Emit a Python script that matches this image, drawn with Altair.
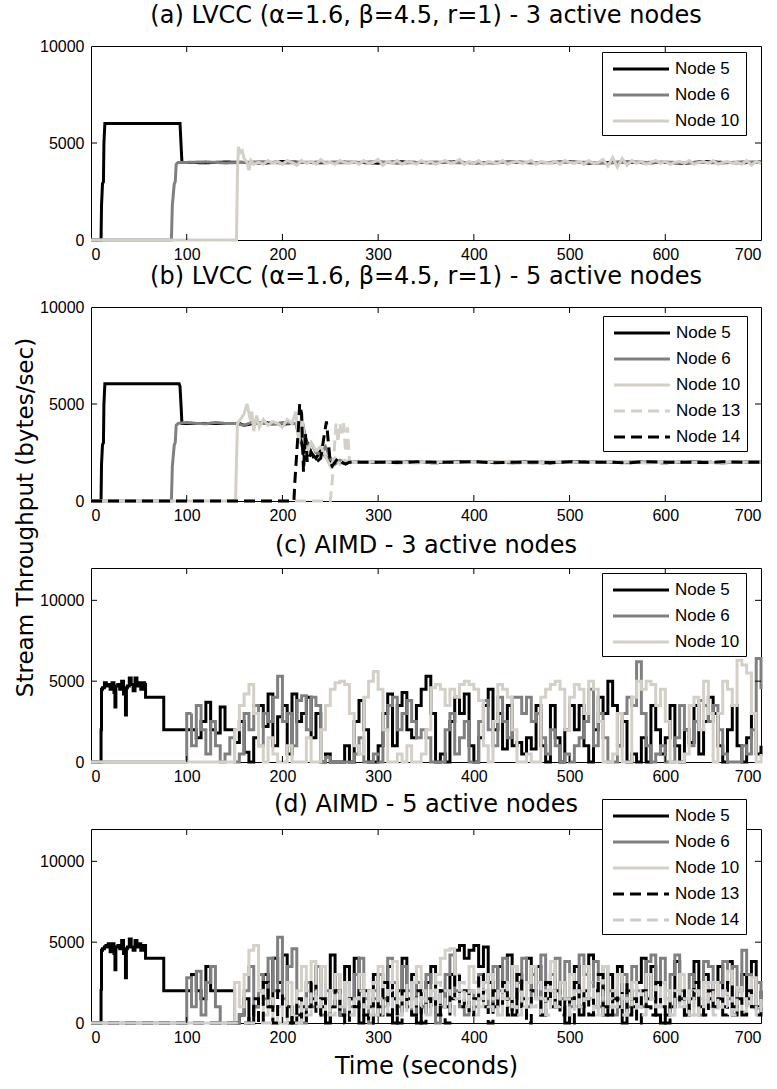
import altair as alt
import pandas as pd

# ---------------- data ----------------
X_LABELS = [0, 100, 200, 300, 400, 500, 600, 700]
X_TICKS_IN = [100, 200, 300, 400, 500, 600]

NODES3 = ["Node 5", "Node 6", "Node 10"]
NODES5 = ["Node 5", "Node 6", "Node 10", "Node 13", "Node 14"]

# ---- (a) LVCC 3 nodes ----
A5_T = [0, 10.5, 11, 12, 13, 13.5, 14.5, 93, 94, 95]
A5_V = [0, 0, 1800, 2900, 3000, 5000, 6000, 6000, 5000, 4000]
A5_S = [4000, 3980, 4020, 4000, 3950, 4050, 4000, 3980, 4020, 4000,
        3960, 4040, 4000, 3980, 4030, 3970, 4000, 4020, 3980, 4000,
        4040, 3960, 4000, 4020, 3980, 4000, 3950, 4050, 4000, 3980, 4020]
A6_T = [0, 84, 85, 87, 88, 89, 91]
A6_V = [0, 0, 1800, 2900, 3000, 3900, 4000]
A6_S = [4000, 4030, 3970, 4000, 4040, 3960, 4000, 4020, 3980, 4000,
        4050, 3950, 4000, 4020, 3980, 4000, 3960, 4040, 4000, 3980,
        4020, 4000, 3950, 4050, 4000, 4020, 3980, 4000, 3970, 4030, 4000]
A10_T = [0, 152, 153, 154, 156, 158, 160, 163, 165, 167, 170]
A10_V = [0, 0, 3500, 4800, 4500, 4600, 4200, 4000, 3600, 4100, 3900]
A10_S = [4000, 3900, 4100, 3950, 4050, 3900, 4100, 4000, 3850, 4100,
         3950, 4050, 3900, 4150, 3950, 4000, 3900, 4100, 4000, 3950,
         4050, 3900, 4100, 3950, 4000, 4150, 3850, 4050, 3950, 4100,
         3900, 4050, 4000, 3900, 4100, 3950, 4050, 3900, 4000, 4100,
         3950, 4000, 4150, 3900, 4050, 3950, 4100, 3900, 4050, 4000,
         3950, 4100, 3900, 4000, 4050, 3950, 4000, 4100, 3900, 4050,
         4000, 3950, 4050, 3900, 4100, 4000, 3950, 4050, 3900, 4100,
         3950, 4000, 4150, 3800, 4250, 3750, 4200, 3850, 4100, 3950,
         4050, 3900, 4000, 4100, 3950, 4050, 3900, 4000, 4050, 3950,
         4100, 3900, 4000, 4050, 3950, 4100, 3900, 4000, 4050, 3950,
         4000, 3900, 4100, 3850, 4050, 3950]

# ---- (b) LVCC 5 nodes ----
B5_T = [0, 10.5, 11, 12, 13, 13.5, 14.5, 92, 93, 94, 95, 150, 155, 160, 170, 180,
        190, 200, 210, 214, 218, 222, 226, 230, 235, 240, 245, 250, 255, 260, 265, 270]
B5_V = [0, 0, 1900, 2900, 3000, 5000, 6050, 6050, 5900, 5000, 4000, 4000, 4000, 3900, 4000, 4050,
        4000, 3950, 4000, 4000, 3500, 2500, 3000, 2500, 2200, 2600, 2300, 2000, 2100, 2000, 1950, 2000]
B6_T = [0, 84, 85, 87, 88, 89, 91, 100, 110, 120, 130, 140, 150, 160, 170, 180,
        190, 200, 210, 214, 218, 222, 226, 230, 235, 240, 245, 250, 255, 260, 265, 270]
B6_V = [0, 0, 1800, 2900, 3000, 3900, 4000, 4050, 4000, 3980, 4050, 4000, 4000, 3900, 4100, 4000,
        3950, 4050, 4000, 4000, 3200, 3800, 2800, 3000, 2500, 2400, 2800, 2200, 1900, 2100, 2000, 2000]
B10_T = [0, 151, 152, 153, 156, 160, 163, 166, 168, 170, 173, 176, 180, 185, 190, 195, 200,
         205, 210, 214, 217, 220, 223, 226, 230, 235, 240, 245, 250, 255, 260, 265, 270]
B10_V = [0, 0, 2000, 4000, 4200, 4500, 5000, 4300, 4600, 3600, 4400, 3800, 4200, 3900, 4100, 4000, 3800,
         4200, 4000, 4600, 3000, 4500, 3200, 2500, 3000, 2600, 2800, 2300, 1800, 2200, 1900, 2100, 2000]
B13_T = [0, 250, 252, 254, 256, 258, 260, 262, 264, 266, 268, 270, 272]
B13_V = [0, 0, 1000, 2500, 4000, 3000, 4000, 3500, 4000, 2500, 3800, 2000, 2000]
B14_T = [0, 212, 213, 215, 217, 218, 220, 222, 224, 226, 230, 235, 240, 244, 246, 248,
         250, 252, 255, 258, 262, 266, 270]
B14_V = [0, 0, 1000, 2500, 4000, 5000, 4500, 1500, 3500, 2000, 2500, 2000, 2200, 3500, 4100, 3000,
         2000, 1800, 2000, 2200, 2000, 1900, 2000]
B5_S = [2000, 1980, 2020, 2000, 1970, 2030, 2000, 1980, 2020, 2000, 1960,
        2040, 2000, 1980, 2020, 2000, 1970, 2030, 2000, 1980, 2020, 2000]
B6_S = [2000, 2030, 1970, 2000, 2020, 1980, 2000, 2040, 1960, 2000, 2020,
        1980, 2000, 2030, 1970, 2000, 2020, 1980, 2000, 1960, 2040, 2000]
B10_S = [1980, 2020, 2000, 1960, 2040, 2000, 1980, 2020, 2050, 1950, 2000,
         2020, 1980, 2000, 2040, 1960, 2000, 2030, 1970, 2000, 2020, 1980]
B13_S = [2020, 1980, 2000, 2040, 1960, 2000, 2020, 1980, 2000, 1950, 2050,
         2000, 1980, 2020, 2000, 1960, 2040, 2000, 1980, 2020, 2000, 2000]
B14_S = [2000, 2000, 1980, 2020, 2000, 2000, 2030, 1970, 2000, 2000, 1980,
         2020, 2000, 2000, 1970, 2030, 2000, 2000, 1980, 2020, 2000, 2000]

# ---- (c) AIMD 3 nodes (early part + samples every 5 s from t=100) ----
AIMD5_T = [0, 10, 10.5, 11, 12, 14, 16, 18, 20, 22, 24, 25, 26, 28, 30, 32, 34, 36, 37, 38,
           40, 42, 44, 46, 48, 50, 52, 54, 56, 57, 58, 75, 76, 95]
C5_EARLY = [0, 0, 2000, 4500, 4600, 4900, 4700, 4800, 4500, 4900, 4300, 3400, 4700, 4800, 4500,
            5000, 4200, 2900, 4600, 4700, 5200, 4800, 4400, 5200, 4700, 4900, 4500, 4900, 4800,
            4000, 4000, 4000, 2000, 2000]
C5 = [2000, 2000, 1500, 2500, 3700, 2000, 1800, 3400, 2000, 2000,
      1200, 2500, 600, 0, 1500, 3500, 2200, 4200, 1000, 2800,
      3500, 500, 4200, 2500, 3000, 4000, 1500, 3000, 0, 500,
      0, 0, 0, 1000, 0, 2500, 3800, 2000, 0, 0,
      1000, 3000, 4200, 1000, 3500, 4300, 2000, 1500, 3500, 4500,
      5300, 3000, 0, 500, 0, 2500, 4000, 3000, 4200, 1000,
      0, 1500, 3500, 4500, 2000, 3000, 800, 3500, 1000, 1200,
      500, 1500, 800, 3500, 1000, 0, 3500, 1500, 0, 2000,
      3500, 2000, 3500, 1000, 0, 2000, 4000, 3000, 5000, 3500,
      1000, 2500, 0, 500, 0, 1500, 0, 3500, 2000, 500,
      1500, 3500, 1000, 0, 2000, 1200, 3500, 500, 2500, 4000,
      3000, 1000, 0, 2000, 3500, 1000, 0, 1500, 3000, 500,
      1000]
C6 = [3000, 1000, 3500, 2000, 500, 2500, 1000, 0, 500, 1500,
      0, 500, 3000, 2000, 3500, 1000, 3000, 2500, 4000, 5300,
      2500, 3000, 1000, 3800, 4100, 2000, 4000, 3500, 0, 300,
      0, 0, 0, 0, 0, 500, 1500, 0, 0, 500,
      0, 2000, 3500, 4000, 2000, 3000, 3800, 2500, 1500, 2000,
      1500, 0, 0, 0, 2000, 3000, 500, 1500, 2500, 0,
      0, 2500, 3800, 2000, 1000, 4000, 2500, 1500, 4000, 4000,
      3000, 4000, 2500, 3000, 1500, 500, 2000, 1000, 0, 500,
      0, 1000, 1500, 2500, 4500, 1000, 3000, 1500, 0, 0,
      1000, 3000, 4000, 3500, 6200, 3000, 1000, 0, 500, 1000,
      0, 0, 1500, 3500, 2000, 1000, 2500, 3800, 3500, 2500,
      3500, 2000, 500, 0, 0, 0, 1000, 500, 2000, 6400,
      4500]
C10 = [0, 0, 0, 0, 0, 0, 0, 0, 0, 0,
       2000, 3500, 4200, 4800, 3000, 1000, 0, 1500, 500, 0,
       0, 1000, 0, 0, 0, 1500, 0, 0, 2000, 3500,
       4500, 4900, 5000, 4800, 3000, 1000, 500, 4000, 5000, 5600,
       4500, 2000, 0, 0, 500, 0, 1000, 0, 0, 500,
       2000, 4600, 4800, 4500, 3500, 4500, 4000, 4800, 5000, 4800,
       4500, 3800, 1000, 0, 2500, 4800, 4500, 4000, 2000, 0,
       0, 500, 0, 0, 4000, 4500, 4800, 5000, 4500, 2000,
       4000, 4800, 4500, 3000, 5000, 4500, 2500, 0, 0, 500,
       3000, 0, 0, 4000, 5000, 4500, 5000, 4800, 3500, 4500,
       2500, 0, 0, 0, 500, 3500, 4000, 2000, 5000, 3000,
       0, 3000, 5000, 4500, 3500, 6300, 6000, 5500, 3000, 0,
       500]

# ---- (d) AIMD 5 nodes ----
D5_EARLY = [0, 0, 2100, 4500, 4600, 4800, 4700, 4900, 4400, 4900, 4300, 3300, 4700, 4800, 4600,
            5100, 4300, 2800, 4600, 4700, 5200, 4700, 4500, 5100, 4700, 4900, 4500, 4800, 4800,
            4000, 4000, 4000, 2000, 2000]
D5 = [2000, 3000, 2000, 1500, 3500, 2000, 2000, 2000, 2000, 2000,
      0, 500, 1500, 0, 1000, 2000, 3000, 1000, 4000, 2500,
      4200, 1000, 0, 500, 1000, 2500, 1500, 3500, 1000, 0,
      4200, 2000, 500, 3500, 1500, 4000, 0, 2000, 1000, 3000,
      500, 1500, 3500, 0, 2000, 4000, 1500, 3000, 0, 1000,
      2500, 3500, 500, 2000, 1000, 3000, 4500, 4800, 4000, 4500,
      4800, 3500, 4700, 2500, 1000, 3500, 2000, 4200, 500, 3000,
      1500, 4000, 2000, 3500, 500, 1500, 3000, 1000, 2500, 0,
      1500, 3500, 500, 2000, 4200, 1000, 2500, 500, 3000, 1500,
      3500, 0, 2000, 1000, 2500, 4000, 1500, 3500, 500, 0,
      500, 1000, 3800, 1500, 500, 1500, 3800, 1000, 3000, 1500,
      2500, 3500, 1000, 3800, 500, 2000, 3000, 1500, 3800, 1000,
      2000]
D6 = [2800, 1000, 3200, 500, 2500, 3500, 1000, 0, 0, 0,
      0, 500, 2000, 3500, 1000, 3000, 1500, 4000, 2000, 5300,
      1500, 3500, 4600, 1000, 0, 2500, 1000, 3500, 500, 2000,
      1000, 3000, 500, 2500, 1000, 3000, 4000, 1500, 0, 2000,
      3000, 1500, 4000, 2500, 1000, 3500, 2000, 500, 2500, 1000,
      3000, 1500, 0, 1000, 3000, 4200, 2000, 1000, 500, 2000,
      1000, 3000, 2000, 1000, 3500, 2000, 4000, 1500, 3500, 2500,
      4000, 1000, 3000, 1500, 4200, 2000, 3000, 4000, 1500, 3800,
      1000, 2500, 4200, 3000, 1500, 3800, 1000, 3500, 2000, 500,
      1500, 3000, 1000, 3500, 2000, 1000, 3800, 4200, 2500, 4000,
      1500, 3000, 4200, 2000, 1000, 3000, 2000, 500, 3800, 3500,
      1000, 2500, 3800, 1500, 3500, 2000, 4500, 3000, 1000, 2500,
      1500]
D10 = [0, 0, 0, 0, 0, 0, 0, 0, 0, 0,
       2500, 1000, 3000, 4500, 4800, 2000, 500, 1500, 0, 1000,
       0, 2500, 500, 2000, 3500, 2000, 3800, 1000, 3500, 500,
       2000, 3000, 1000, 2500, 500, 1500, 3000, 1000, 2000, 500,
       3500, 1000, 2500, 3800, 500, 2000, 1000, 2500, 3500, 1500,
       500, 2000, 3000, 4000, 4500, 4600, 3000, 2000, 1000, 3500,
       2500, 1000, 2000, 3000, 1500, 500, 2500, 1000, 3500, 2000,
       1000, 2500, 3500, 1500, 500, 2000, 3800, 1000, 2500, 1500,
       3000, 1000, 2000, 3500, 1500, 500, 2500, 3500, 1000, 2000,
       3000, 1500, 500, 2500, 1000, 2000, 3000, 1500, 2500, 1000,
       2000, 500, 1500, 3000, 1000, 2000, 500, 1500, 2500, 1000,
       2500, 1000, 1800, 3200, 800, 2200, 700, 1200, 2800, 900,
       1500]
D13 = [0, 0, 0, 0, 0, 0, 0, 0, 0, 0,
       0, 0, 0, 500, 1500, 0, 2500, 1000, 0, 2000,
       1000, 0, 500, 1500, 0, 1000, 2500, 500, 1500, 0,
       1000, 2000, 500, 0, 1500, 1000, 2000, 500, 0, 1500,
       1000, 2500, 500, 1500, 0, 2000, 1000, 500, 2000, 0,
       1500, 1000, 2500, 500, 0, 1500, 3000, 1000, 2000, 500,
       1500, 3000, 1000, 0, 2000, 1000, 2500, 500, 1500, 3000,
       1000, 0, 2000, 1500, 500, 2500, 1000, 2000, 500, 1500,
       0, 2500, 1000, 1500, 500, 2000, 3000, 1000, 500, 2000,
       1000, 2500, 500, 1500, 0, 2000, 1000, 500, 2500, 1000,
       0, 1500, 1000, 2000, 500, 1500, 2500, 1000, 500, 2000,
       1000, 1500, 500, 2500, 1000, 1500, 500, 2000, 1000, 500,
       1000]
D14 = [0, 0, 0, 0, 0, 0, 0, 0, 0, 0,
       0, 0, 0, 0, 0, 0, 0, 0, 0, 0,
       0, 0, 0, 0, 1500, 500, 2000, 1000, 2500, 1500,
       500, 2000, 1000, 2500, 500, 1500, 2000, 1000, 500, 2500,
       1500, 500, 2000, 1000, 1500, 500, 2500, 1500, 1000, 2000,
       500, 1500, 2500, 1000, 2000, 500, 1500, 2500, 1000, 2000,
       500, 1500, 2500, 1000, 500, 2000, 1500, 2500, 1000, 500,
       2000, 1500, 1000, 2500, 1500, 500, 2000, 1000, 2500, 1500,
       500, 2000, 1000, 1500, 2500, 1000, 500, 2000, 1500, 1000,
       2500, 500, 1500, 2000, 1000, 500, 2000, 1500, 1000, 2500,
       1500, 500, 2000, 1000, 1500, 500, 2000, 1500, 1000, 2500,
       500, 1500, 2000, 1000, 500, 2000, 1500, 1000, 2000, 500,
       1500]

# ---------------- styling ----------------
BLACK, GRAY, LIGHT, LIGHT2 = "#000000", "#808080", "#d4d0c8", "#cbcbcb"
SOLID, DASH = [1, 0], [11, 6]
W, H = 670, 194
LW = 3
TITLE_FONT = "DejaVu Sans"
TICK_FONT = "Liberation Sans"
LEGEND_LINE = "M-3,0H3"


def series(node, t_early, v_early, start, step, grid):
    t = list(t_early) + [start + step * i for i in range(len(grid))]
    v = list(v_early) + list(grid)
    return pd.DataFrame({"t": t, "v": v, "node": node})


def panel(frames, title, nodes, colors, dashes, ymax, ylabels, yticks_in, lx, ly,
          ytitle=None, xtitle=None, interp="linear", title_offset=10):
    df = pd.concat(frames, ignore_index=True)
    x_axis = dict(values=X_LABELS, labelPadding=6, title=xtitle, format="d")
    if xtitle:
        x_axis.update(titleFont=TITLE_FONT, titleFontSize=24, titleFontWeight="normal",
                      titlePadding=9, titleColor="black")
    y_axis = dict(values=ylabels, labelPadding=7, title=ytitle, format="d")
    if ytitle:
        y_axis.update(titleFont=TITLE_FONT, titleFontSize=23, titleFontWeight="normal",
                      titleColor="black", titleAngle=270, titleX=-66, titleY=210,
                      titleAlign="center", titleBaseline="middle")
    xe = alt.X("t:Q", scale=alt.Scale(domain=[0, 700], nice=False), axis=alt.Axis(**x_axis))
    ye = alt.Y("v:Q", scale=alt.Scale(domain=[0, ymax], nice=False), axis=alt.Axis(**y_axis))
    leg = alt.Legend(title=None, orient="none", legendX=lx, legendY=ly, symbolType=LEGEND_LINE,
                     symbolSize=348, symbolStrokeWidth=LW, labelFont=TICK_FONT,
                     labelFontSize=17, labelColor="black", strokeColor="black",
                     fillColor="white", padding=6, rowPadding=7, symbolOffset=22,
                     labelOffset=23, cornerRadius=0)
    lines = alt.Chart(df).mark_line(strokeWidth=LW, clip=False, interpolate=interp).encode(
        x=xe, y=ye,
        color=alt.Color("node:N", scale=alt.Scale(domain=nodes, range=colors), legend=leg),
        strokeDash=alt.StrokeDash("node:N", scale=alt.Scale(domain=nodes, range=dashes), legend=leg),
    )
    xt = pd.DataFrame({"t": X_TICKS_IN})
    yt = pd.DataFrame({"v": yticks_in})
    tb = alt.Chart(xt).mark_rule(color="black", strokeWidth=1).encode(
        x=xe, y=alt.value(H), y2=alt.value(H - 6))
    tt = alt.Chart(xt).mark_rule(color="black", strokeWidth=1).encode(
        x=xe, y=alt.value(0), y2=alt.value(6))
    tl = alt.Chart(yt).mark_rule(color="black", strokeWidth=1).encode(
        y=ye, x=alt.value(0), x2=alt.value(6))
    tr = alt.Chart(yt).mark_rule(color="black", strokeWidth=1).encode(
        y=ye, x=alt.value(W - 6), x2=alt.value(W))
    return alt.layer(lines, tb, tt, tl, tr).properties(
        width=W, height=H,
        title=alt.TitleParams(title, font=TITLE_FONT, fontSize=24, fontWeight="normal",
                              color="black", offset=title_offset, anchor="middle"),
    )


pa = panel([
    series("Node 5", A5_T, A5_V, 100, 20, A5_S),
    series("Node 6", A6_T, A6_V, 100, 20, A6_S),
    series("Node 10", A10_T, A10_V, 175, 5, A10_S),
], "(a) LVCC (\u03b1=1.6, \u03b2=4.5, r=1) - 3 active nodes", NODES3,
    [BLACK, GRAY, LIGHT], [SOLID, SOLID, SOLID], 10000, [0, 5000, 10000], [5000], 511, 6)

pb = panel([
    series("Node 5", B5_T, B5_V, 280, 20, B5_S),
    series("Node 6", B6_T, B6_V, 280, 20, B6_S),
    series("Node 10", B10_T, B10_V, 280, 20, B10_S),
    series("Node 13", B13_T, B13_V, 280, 20, B13_S),
    series("Node 14", B14_T, B14_V, 280, 20, B14_S),
], "(b) LVCC (\u03b1=1.6, \u03b2=4.5, r=1) - 5 active nodes", NODES5,
    [BLACK, GRAY, LIGHT, LIGHT, BLACK], [SOLID, SOLID, SOLID, DASH, DASH], 10000,
    [0, 5000, 10000], [5000], 512, 9, ytitle="Stream Throughput (bytes/sec)")

pc = panel([
    series("Node 5", AIMD5_T, C5_EARLY, 100, 5, C5),
    series("Node 6", [0, 95], [0, 0], 100, 5, C6),
    series("Node 10", [0], [0], 100, 5, C10),
], "(c) AIMD - 3 active nodes", NODES3,
    [BLACK, GRAY, LIGHT], [SOLID, SOLID, SOLID], 12000, [0, 5000, 10000], [5000, 10000], 511, 5,
    interp="step-after")

pd_ = panel([
    series("Node 5", AIMD5_T, D5_EARLY, 100, 5, D5),
    series("Node 6", [0, 95], [0, 0], 100, 5, D6),
    series("Node 10", [0], [0], 100, 5, D10),
    series("Node 13", [0], [0], 100, 5, D13),
    series("Node 14", [0], [0], 100, 5, D14),
], "(d) AIMD - 5 active nodes", NODES5,
    [BLACK, GRAY, LIGHT, BLACK, LIGHT2], [SOLID, SOLID, SOLID, DASH, DASH], 12000,
    [0, 5000, 10000], [5000, 10000], 511, -30, xtitle="Time (seconds)",
    interp="step-after", title_offset=-18)

chart = alt.vconcat(pa, pb, pc, pd_, spacing=67, bounds="flush").resolve_scale(
    color="independent", strokeDash="independent", x="independent", y="independent"
).properties(
    padding={"left": 13, "top": 3, "right": 0, "bottom": 2},
    background="white",
).configure_view(
    stroke="black", strokeWidth=1
).configure_axis(
    domain=False, ticks=False, grid=False, labelFont=TICK_FONT, labelFontSize=16,
    labelColor="black"
)

chart.save("out.html", embed_options={"renderer": "svg", "actions": False})
